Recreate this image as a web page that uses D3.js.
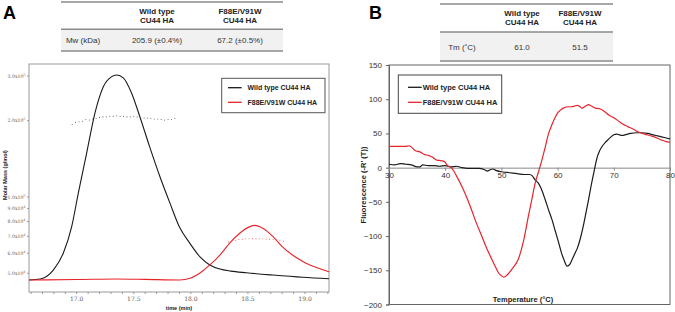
<!DOCTYPE html>
<html>
<head>
<meta charset="utf-8">
<script src="https://cdn.jsdelivr.net/npm/d3@7"></script>
<style>
  body { margin: 0; background: #fff; }
  svg { display: block; font-family: "Liberation Sans", Arial, sans-serif; }
</style>
</head>
<body>
<div id="chart"></div>
<script>
// ---- panel A data (SEC-MALS) ----
var timeTicks = [17.0, 17.5, 18.0, 18.5, 19.0];
var massTicks = [50000, 60000, 70000, 80000, 90000, 100000, 200000, 300000];

// detector signal, % of wild type peak
var wtTime   = [16.583, 16.68, 16.795, 16.883, 16.956, 17.014, 17.087, 17.16, 17.233, 17.306, 17.35, 17.41, 17.48, 17.554, 17.64, 17.73, 17.816, 17.90, 17.99, 18.08, 18.166, 18.254, 18.35, 18.487, 18.717, 18.98, 19.21];
var wtSignal = [0.5, 1, 5.3, 13.6, 26.4, 42.7, 62.1, 81.6, 94.3, 99.2, 100, 98.5, 91.3, 79.6, 65, 50.5, 37.9, 26.2, 18.4, 11.7, 7.8, 5.8, 4.8, 4.0, 2.9, 1.8, 1.1];
var mutTime   = [16.583, 17.0, 17.35, 17.6, 17.9, 18.0, 18.08, 18.166, 18.254, 18.34, 18.43, 18.517, 18.56, 18.63, 18.72, 18.80, 18.89, 19.0, 19.12, 19.21];
var mutSignal = [0.5, 0.7, 1.0, 0.8, 0.5, 1.5, 3.9, 7.8, 12.6, 18.4, 23.3, 26.4, 27.0, 25.6, 21.5, 16.7, 12.6, 8.9, 6.2, 4.5];

// molar mass (g/mol) across the peaks
var wtMassTime = [16.96, 16.99, 17.02, 17.05, 17.08, 17.11, 17.14, 17.17, 17.20, 17.23, 17.26, 17.29, 17.32, 17.35, 17.38, 17.41, 17.44, 17.47, 17.50, 17.53, 17.56, 17.59, 17.62, 17.65, 17.68, 17.71, 17.74, 17.77, 17.80, 17.83, 17.86];
var wtMass     = [193000, 197000, 198000, 199000, 202000, 201000, 203000, 204000, 206000, 207000, 207000, 208000, 208000, 209000, 208000, 208000, 207000, 207000, 208000, 207000, 206000, 205000, 205000, 204000, 203000, 203000, 202000, 201000, 202000, 202000, 204000];
var mutMassTime = [18.33, 18.36, 18.39, 18.42, 18.45, 18.48, 18.51, 18.54, 18.57, 18.60, 18.63, 18.66, 18.69, 18.72, 18.75, 18.78, 18.81];
var mutMass     = [66500, 67000, 67500, 68000, 68200, 68400, 68400, 68500, 68500, 68400, 68400, 68300, 68200, 68000, 67800, 67500, 67000];

// ---- panel B data (thermal melt) ----
var tempTicks = [30, 40, 50, 60, 70, 80];
var fluorTicks = [-200, -150, -100, -50, 0, 50, 100, 150];

var wtTemp  = [30, 31, 32, 33, 34, 35, 35.5, 36, 37, 38, 39, 40, 41, 42, 43, 44, 45, 46, 47, 47.5, 48, 48.5, 49, 50, 51, 52, 53, 54, 55, 55.5, 56, 56.6, 57.2, 57.8, 58.4, 59, 59.6, 60.2, 60.7, 61.1, 61.7, 62.2, 62.6, 63.1, 63.5, 64, 64.5, 65, 65.5, 66, 66.5, 67, 67.5, 68, 68.5, 69, 69.5, 70, 70.5, 71, 71.5, 72, 73, 74, 75, 76, 77, 78, 79, 80];
var wtFluor = [5, 4, 6, 5, 4, 1, 1, 4, 3, 3, 2, 3, 1, 2, 0, -1, -1, -1, -3, -5, -3, -2, -4, -6, -7, -8, -9, -10, -10, -12, -18, -23, -33, -47, -62, -76, -93, -110, -125, -134, -144, -141, -134, -125, -118, -105, -88, -68, -47, -25, -5, 14, 25, 32, 37, 41, 45, 48, 49, 48, 47, 48, 50, 51, 51, 50, 48, 46, 44, 42];
var mutTemp  = [30, 31, 32, 33, 33.5, 34, 34.6, 35.5, 36.4, 37, 37.6, 38.5, 39.4, 40, 40.3, 41.2, 42, 43, 44, 44.7, 45.5, 46.5, 47.5, 48.3, 49, 49.5, 50, 50.4, 51, 52, 53, 54, 54.8, 55.4, 56, 56.6, 57.2, 57.8, 58.4, 59, 59.6, 60, 60.5, 61, 62, 62.5, 63, 63.5, 64, 64.3, 65, 65.5, 66, 66.7, 67.5, 68.5, 69.1, 70, 71, 71.5, 72.5, 73.5, 74.4, 75.5, 76.8, 77.8, 78.6, 79.3, 80];
var mutFluor = [31, 31, 31, 31, 32, 30, 25, 23, 19, 18, 16, 11, 10, 8, 4, -1, -12, -28, -47, -62, -80, -100, -120, -134, -146, -154, -158, -160, -157, -147, -134, -105, -71, -47, -23, -6, 11, 30, 50, 63, 74, 80, 84, 87, 89, 89, 90, 91, 89, 87, 90, 92, 90, 87, 86, 81, 77, 73, 67, 64, 60, 56, 52, 49, 46, 43, 40, 38, 37];

// ---- tables ----
var seriesNames = ["Wild type CU44 HA", "F88E/V91W CU44 HA"];
var tableHead = [["Wild type", "CU44 HA"], ["F88E/V91W", "CU44 HA"]];
var tableALabel = "Mw (kDa)";
var tableAValues = ["205.9 (±0.4%)", "67.2 (±0.5%)"];
var tableBLabel = "Tm (˚C)";
var tableBValues = ["61.0", "51.5"];

var black = "#1a1a1a", red = "#e8242b";

var svg = d3.select("#chart").append("svg")
  .attr("width", 675).attr("height", 312);

// panel letters
svg.append("text").attr("x", 3).attr("y", 19).attr("font-size", 18).attr("font-weight", "bold").text("A");
svg.append("text").attr("x", 369).attr("y", 19).attr("font-size", 18).attr("font-weight", "bold").text("B");

function drawTable(x0, x1, ys, cols, label, values) {
  var g = svg.append("g");
  g.append("rect").attr("x", x0).attr("y", ys[1]).attr("width", x1 - x0).attr("height", ys[2] - ys[1]).attr("fill", "#f1f1f1");
  ys.forEach(function (y) {
    g.append("line").attr("x1", x0).attr("x2", x1).attr("y1", y).attr("y2", y)
      .attr("stroke", "#8a8a8a").attr("stroke-width", 1.5);
  });
  tableHead.forEach(function (h, i) {
    g.append("text").attr("x", cols[i + 1]).attr("y", ys[0] + 12).attr("text-anchor", "middle")
      .attr("font-size", 8).attr("font-weight", "bold").attr("fill", "#222").text(h[0]);
    g.append("text").attr("x", cols[i + 1]).attr("y", ys[0] + 21).attr("text-anchor", "middle")
      .attr("font-size", 8).attr("font-weight", "bold").attr("fill", "#222").text(h[1]);
  });
  var rowY = (ys[1] + ys[2]) / 2 + 3;
  g.append("text").attr("x", cols[0]).attr("y", rowY).attr("text-anchor", "middle")
    .attr("font-size", 8).attr("fill", "#333").text(label);
  values.forEach(function (v, i) {
    g.append("text").attr("x", cols[i + 1]).attr("y", rowY).attr("text-anchor", "middle")
      .attr("font-size", 8).attr("fill", "#333").text(v);
  });
}
drawTable(61, 283, [2, 29.3, 51], [83, 157, 240], tableALabel, tableAValues);
drawTable(440, 613, [4, 32, 61], [462, 522, 580], tableBLabel, tableBValues);

// ================= panel A =================
var xA = d3.scaleLinear().domain([16.582, 19.21]).range([29, 329]);
var yMass = d3.scaleLog().domain([42200, 334600]).range([292, 64]);
var ySig = d3.scaleLinear().domain([0, 100]).range([281, 75]);

var gA = svg.append("g");
gA.append("rect").attr("x", 29).attr("y", 64).attr("width", 300).attr("height", 228)
  .attr("fill", "none").attr("stroke", "#999").attr("stroke-width", 1);

// x axis with minor ticks
var minor = d3.range(16.6, 19.21, 0.1);
gA.selectAll(".mt").data(minor).enter().append("line")
  .attr("x1", function (d) { return xA(d); }).attr("x2", function (d) { return xA(d); })
  .attr("y1", 292).attr("y2", 294).attr("stroke", "#999");
gA.selectAll(".xl").data(timeTicks).enter().append("text")
  .attr("x", function (d) { return xA(d); }).attr("y", 300.5)
  .attr("text-anchor", "middle").attr("font-size", 6).attr("fill", "#555")
  .attr("font-family", "DejaVu Serif, serif")
  .text(function (d) { return d.toFixed(1); });
gA.append("text").attr("x", 179).attr("y", 309.5).attr("text-anchor", "middle")
  .attr("font-size", 5.5).attr("font-weight", "bold").attr("fill", "#222").text("time (min)");

// log y axis
gA.selectAll(".yt").data(massTicks).enter().append("line")
  .attr("x1", 27).attr("x2", 29)
  .attr("y1", function (d) { return yMass(d); }).attr("y2", function (d) { return yMass(d); })
  .attr("stroke", "#999");
var yl = gA.selectAll(".yl").data(massTicks).enter().append("text")
  .attr("x", 25.5).attr("y", function (d) { return yMass(d) + 1.8; })
  .attr("text-anchor", "end").attr("font-size", 4.6).attr("fill", "#555")
  .attr("font-family", "DejaVu Serif, serif");
yl.append("tspan").text(function (d) {
  var e = Math.floor(Math.log10(d));
  return (d / Math.pow(10, e)).toFixed(1) + "x10";
});
yl.append("tspan").attr("dy", -2.2).attr("font-size", 3.4).text(function (d) {
  return Math.floor(Math.log10(d));
});
gA.append("text").attr("transform", "translate(7,175) rotate(-90)").attr("text-anchor", "middle")
  .attr("font-size", 5.5).attr("font-weight", "bold").attr("fill", "#222").text("Molar Mass (g/mol)");

// traces
var lineA = d3.line().curve(d3.curveMonotoneX);
gA.append("path")
  .attr("d", lineA(wtTime.map(function (t, i) { return [xA(t), ySig(wtSignal[i])]; })))
  .attr("fill", "none").attr("stroke", black).attr("stroke-width", 1.1);
gA.append("path")
  .attr("d", lineA(mutTime.map(function (t, i) { return [xA(t), ySig(mutSignal[i])]; })))
  .attr("fill", "none").attr("stroke", red).attr("stroke-width", 1.1);

// molar mass dots
gA.selectAll(".wd").data(wtMassTime).enter().append("circle")
  .attr("cx", function (d) { return xA(d); })
  .attr("cy", function (d, i) { return yMass(wtMass[i]); })
  .attr("r", 0.55).attr("fill", "#666");
gA.selectAll(".md").data(mutMassTime).enter().append("circle")
  .attr("cx", function (d) { return xA(d); })
  .attr("cy", function (d, i) { return yMass(mutMass[i]); })
  .attr("r", 0.55).attr("fill", "#ee6a6a");

// legend A
var legA = gA.append("g");
legA.append("rect").attr("x", 221.7).attr("y", 78.3).attr("width", 103.3).attr("height", 34.4)
  .attr("fill", "#fff").attr("stroke", "#555").attr("stroke-width", 1);
[black, red].forEach(function (c, i) {
  var y = 87.7 + i * 14.6;
  legA.append("line").attr("x1", 228).attr("x2", 241.7).attr("y1", y).attr("y2", y)
    .attr("stroke", c).attr("stroke-width", 1.3);
  legA.append("text").attr("x", 247.5).attr("y", y + 2.5).attr("font-size", 7)
    .attr("font-weight", "bold").attr("fill", "#222").text(seriesNames[i]);
});

// ================= panel B =================
var xB = d3.scaleLinear().domain([30, 80]).range([389, 670]);
var yB = d3.scaleLinear().domain([-200, 150]).range([304.5, 65]);

var gB = svg.append("g");
gB.append("rect").attr("x", 389).attr("y", 65).attr("width", 281).attr("height", 239.5)
  .attr("fill", "none").attr("stroke", "#666").attr("stroke-width", 1);

gB.append("g").attr("transform", "translate(389,0)")
  .call(d3.axisLeft(yB).tickValues(fluorTicks).tickSize(3).tickPadding(4))
  .call(function (g) {
    g.select(".domain").attr("stroke", "#666");
    g.selectAll(".tick line").attr("stroke", "#666");
    g.selectAll("text").attr("font-size", 8).attr("fill", "#333")
      .attr("font-family", "Liberation Sans, Arial, sans-serif");
  });

gB.append("g").attr("transform", "translate(0," + yB(0) + ")")
  .call(d3.axisBottom(xB).tickValues(tempTicks).tickSize(3).tickPadding(2))
  .call(function (g) {
    g.select(".domain").attr("stroke", "#888");
    g.selectAll(".tick line").attr("stroke", "#888");
    g.selectAll("text").attr("font-size", 8).attr("fill", "#333")
      .attr("font-family", "Liberation Sans, Arial, sans-serif");
  });

gB.append("text").attr("x", 523).attr("y", 301.5).attr("text-anchor", "middle")
  .attr("font-size", 7.5).attr("font-weight", "bold").attr("fill", "#222").text("Temperature (°C)");
gB.append("text").attr("transform", "translate(366,185) rotate(-90)").attr("text-anchor", "middle")
  .attr("font-size", 7.5).attr("font-weight", "bold").attr("fill", "#222").text("Fluorescence (-R' (T))");

var lineB = d3.line().curve(d3.curveMonotoneX);
gB.append("path")
  .attr("d", lineB(wtTemp.map(function (t, i) { return [xB(t), yB(wtFluor[i])]; })))
  .attr("fill", "none").attr("stroke", black).attr("stroke-width", 1.2);
gB.append("path")
  .attr("d", lineB(mutTemp.map(function (t, i) { return [xB(t), yB(mutFluor[i])]; })))
  .attr("fill", "none").attr("stroke", red).attr("stroke-width", 1.2);

// legend B
var legB = gB.append("g");
legB.append("rect").attr("x", 398.3).attr("y", 75).attr("width", 103.4).attr("height", 38.3)
  .attr("fill", "#fff").attr("stroke", "#444").attr("stroke-width", 1);
[black, red].forEach(function (c, i) {
  var y = 87.3 + i * 15;
  legB.append("line").attr("x1", 408).attr("x2", 421.7).attr("y1", y).attr("y2", y)
    .attr("stroke", c).attr("stroke-width", 1.3);
  legB.append("text").attr("x", 422.7).attr("y", y + 2.7).attr("font-size", 7.5)
    .attr("font-weight", "bold").attr("fill", "#222").text(seriesNames[i]);
});
</script>
</body>
</html>
